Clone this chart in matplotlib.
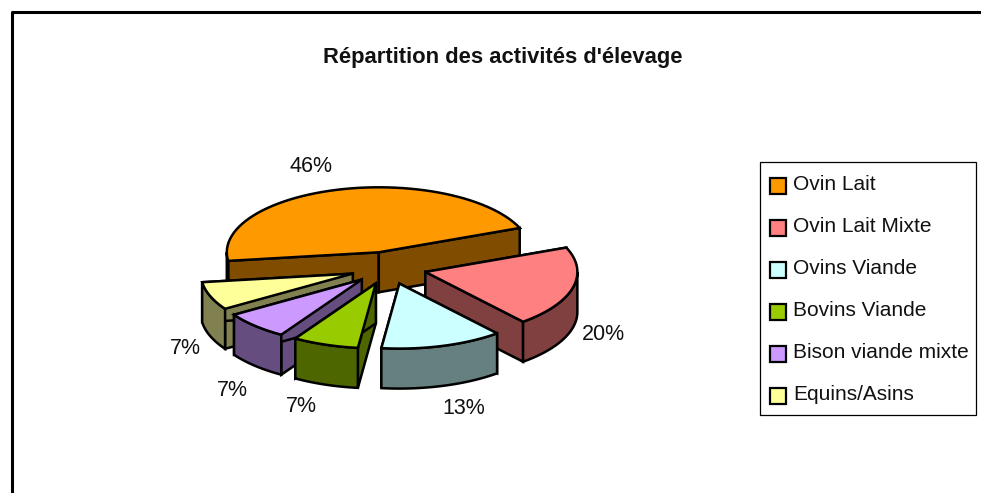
import numpy as np
import matplotlib
matplotlib.use("Agg")
import matplotlib.pyplot as plt
from matplotlib.patches import Polygon, Rectangle

plt.rcParams["font.family"] = ["Liberation Sans", "DejaVu Sans"]

labels = ["Ovin Lait", "Ovin Lait Mixte", "Ovins Viande", "Bovins Viande", "Bison viande mixte", "Equins/Asins"]
shares = [46, 20, 13, 7, 7, 7]
top_colors = ["#FF9900", "#FF8080", "#CCFFFF", "#99CC00", "#CC99FF", "#FFFF99"]
side_colors = ["#804D00", "#804040", "#668080", "#4D6600", "#664D80", "#808050"]
# where the percentage goes, pixels
label_pos = [(311, 166), (603, 334), (464, 409), (301, 407), (232, 390), (185, 348)]
draw_order = [0, 5, 4, 1, 2, 3]

CX, CY = 388.5, 268.0
RX, RY = 152.0, 65.0
DEPTH = 40.0
EXPLODE = 0.25
START = 187.6


def arc(t0, t1, cx, cy):
    t = np.radians(np.linspace(t0, t1, 60))
    return np.column_stack([cx + RX * np.cos(t), cy - RY * np.sin(t)])


def draw_slice(ax, t0, t1, top, side):
    mid = np.radians((t0 + t1) / 2)
    cx = CX + EXPLODE * RX * np.cos(mid)
    cy = CY - EXPLODE * RY * np.sin(mid)
    rim = arc(t0, t1, cx, cy)
    down = np.array([0, DEPTH])
    tip = np.array([cx, cy])
    # cut faces
    for p in (rim[0], rim[-1]):
        quad = [tip, p, p + down, tip + down]
        ax.add_patch(Polygon(quad, fc=side, ec="black", lw=1.8, joinstyle="miter"))
    # outer wall, only the part turned to the viewer
    for k in (0, -360):
        lo = max(t1 + k, -180)
        hi = min(t0 + k, 0)
        if lo < hi:
            wall = arc(lo, hi, cx, cy)
            ax.add_patch(Polygon(np.vstack([wall, wall[::-1] + down]), fc=side, ec="black", lw=1.8))
    ax.add_patch(Polygon(np.vstack([tip, rim]), fc=top, ec="black", lw=1.8, joinstyle="miter"))


fig = plt.figure(figsize=(9.81, 4.93), dpi=100)
ax = fig.add_axes([0, 0, 1, 1])
ax.set_xlim(0, 981)
ax.set_ylim(493, 0)
ax.axis("off")

# chart area frame runs off the right and bottom edges
ax.plot([12, 12, 981], [493, 12, 12], color="black", lw=2.2, solid_capstyle="butt")

ax.text(503, 57, "Répartition des activités d'élevage", ha="center", va="center",
        fontsize=15.8, fontweight="bold", color="#111111")

edges = START - np.cumsum([0] + shares) * 3.6
for i in draw_order:
    draw_slice(ax, edges[i], edges[i + 1], top_colors[i], side_colors[i])

for pos, s in zip(label_pos, shares):
    ax.text(pos[0], pos[1], f"{s}%", ha="center", va="center", fontsize=15.5, color="#111111")

# legend
ax.add_patch(Rectangle((760, 162), 216, 253, fc="white", ec="black", lw=0.9))
for i, name in enumerate(labels):
    y = 185 + i * 41.9
    ax.add_patch(Rectangle((770, y - 7), 16, 16, fc=top_colors[i], ec="black", lw=1.6))
    ax.text(793, y, name, ha="left", va="center", fontsize=15, color="#111111")

fig.savefig("out.png", dpi=100)
